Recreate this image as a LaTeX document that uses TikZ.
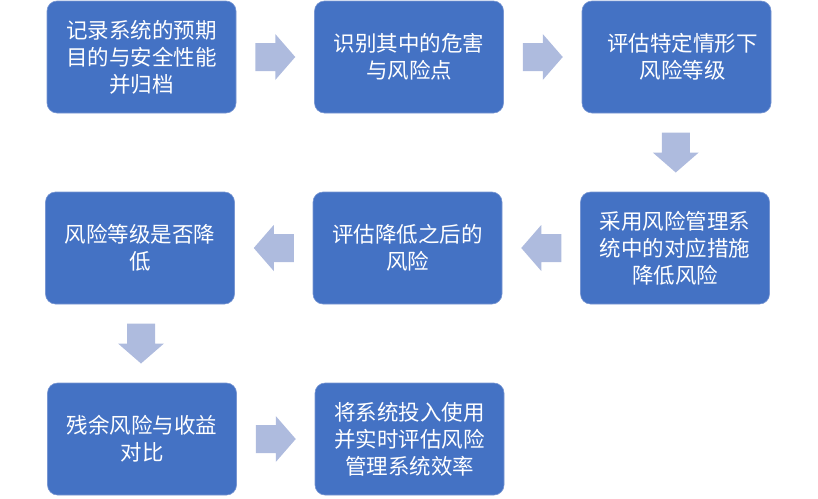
\documentclass[tikz,border=0pt]{standalone}
\usepackage{fontspec}
\newfontfamily\cjk{Noto Sans CJK SC}
\usetikzlibrary{calc}
\definecolor{boxblue}{RGB}{68,114,196}
\definecolor{boxedge}{RGB}{120,150,210}
\definecolor{arrowfill}{RGB}{174,187,222}
\tikzset{
  stepbox/.style={rectangle, rounded corners=10pt, fill=boxblue, draw=boxedge, line width=0.6pt,
    minimum width=189pt, minimum height=112pt, inner sep=0pt, align=center,
    text=white, font=\cjk\fontsize{21.5}{27}\selectfont},
  rightarr/.pic={\fill[arrowfill] (-20,-14) -- (0,-14) -- (0,-23) -- (20,0) -- (0,23) -- (0,14) -- (-20,14) -- cycle;},
  leftarr/.pic={\fill[arrowfill] (20,-14) -- (0,-14) -- (0,-23) -- (-20,0) -- (0,23) -- (0,14) -- (20,14) -- cycle;},
  downarr/.pic={\fill[arrowfill] (-14,-20) -- (-14,0) -- (-23,0) -- (0,20) -- (23,0) -- (14,0) -- (14,-20) -- cycle;},
}
\begin{document}
\begin{tikzpicture}[x=1pt,y=-1pt]
\useasboundingbox (0,0) rectangle (818,498);
\node[stepbox] (b1) at (141.5,57) {记录系统的预期\\目的与安全性能\\并归档};
\node[stepbox] (b2) at (409,57) {识别其中的危害\\与风险点};
\node[stepbox] (b3) at (676.5,57) {\hspace*{12pt}评估特定情形下\\\hspace*{12pt}风险等级};
\node[stepbox] (b6) at (675,248) {采用风险管理系\\统中的对应措施\\降低风险};
\node[stepbox] (b5) at (407.5,248) {评估降低之后的\\风险};
\node[stepbox] (b4) at (140,248) {风险等级是否降\\低};
\node[stepbox] (b7) at (142,439) {残余风险与收益\\对比};
\node[stepbox] (b8) at (409.5,439) {将系统投入使用\\并实时评估风险\\管理系统效率};
\coordinate (m12) at ($(b1.east)!0.5!(b2.west)$);
\coordinate (m23) at ($(b2.east)!0.5!(b3.west)$);
\coordinate (m36) at ($(b3.south)!0.5!(b6.north)$);
\coordinate (m65) at ($(b6.west)!0.5!(b5.east)$);
\coordinate (m54) at ($(b5.west)!0.5!(b4.east)$);
\coordinate (m47) at ($(b4.south)!0.5!(b7.north)$);
\coordinate (m78) at ($(b7.east)!0.5!(b8.west)$);
\pic at (m12) {rightarr};
\pic at (m23) {rightarr};
\pic at (m36) {downarr};
\pic at (m65) {leftarr};
\pic at (m54) {leftarr};
\pic at (m47) {downarr};
\pic at (m78) {rightarr};
\end{tikzpicture}
\end{document}
